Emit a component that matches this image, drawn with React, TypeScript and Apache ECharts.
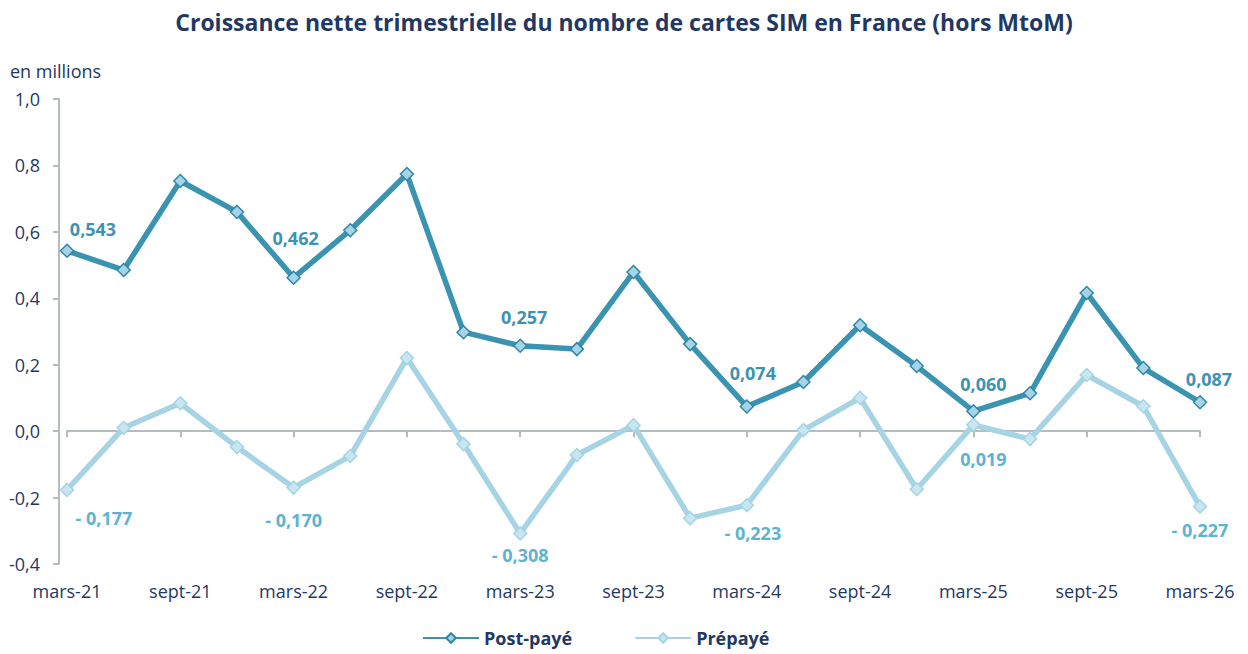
import React, { useEffect, useRef } from "react";
import * as echarts from "echarts";

const categories = [
  "mars-21", "juin-21", "sept-21", "déc-21",
  "mars-22", "juin-22", "sept-22", "déc-22",
  "mars-23", "juin-23", "sept-23", "déc-23",
  "mars-24", "juin-24", "sept-24", "déc-24",
  "mars-25", "juin-25", "sept-25", "déc-25",
  "mars-26",
];

const postPaye = [
  0.543, 0.485, 0.753, 0.66,
  0.462, 0.605, 0.774, 0.298,
  0.257, 0.247, 0.479, 0.262,
  0.074, 0.148, 0.319, 0.196,
  0.06, 0.114, 0.416, 0.19,
  0.087,
];

const prepaye = [
  -0.177, 0.01, 0.084, -0.048,
  -0.17, -0.075, 0.22, -0.039,
  -0.308, -0.072, 0.018, -0.262,
  -0.223, 0.003, 0.1, -0.175,
  0.019, -0.024, 0.169, 0.075,
  -0.227,
];

const labeledIdx = [0, 4, 8, 12, 16, 20];

// label nudges (px) for the labelled points, in labeledIdx order
const postOffsets: [number, number][] = [[26, 4], [2, -13], [4, -3], [6, -7], [10, -1], [9, 3]];
const preOffsets: [number, number][] = [[37, 2], [0, 6], [0, -5], [6, 2], [10, 8], [0, -3]];

const NAVY = "#1F3864";
const POST = "#3A93B0";
const PRE = "#A6D4E4";

function fmt(v: number): string {
  const s = Math.abs(v).toFixed(3).replace(".", ",");
  return v < 0 ? "- " + s : s;
}

export default function App() {
  const ref = useRef<HTMLDivElement>(null);
  useEffect(() => {
    document.body.style.margin = "0";
    const chart = echarts.init(ref.current!, null, { renderer: "svg" });
    const font = "'Open Sans', Lato, sans-serif";
    const mkData = (arr: number[], above: boolean, color: string, offs: [number, number][]) =>
      arr.map((v, i) => {
        const k = labeledIdx.indexOf(i);
        if (k < 0) return v;
        return {
          value: v,
          label: {
            show: true,
            position: above ? "top" : "bottom",
            distance: 10,
            offset: offs[k],
            formatter: () => fmt(v),
            color,
            fontSize: 18,
            fontWeight: "bold",
            fontFamily: font,
          },
        };
      });
    chart.setOption({
      animation: false,
      textStyle: { fontFamily: font },
      title: {
        text: "Croissance nette trimestrielle du nombre de cartes SIM en France (hors MtoM)",
        left: "center",
        top: 5,
        textStyle: { color: NAVY, fontSize: 23, fontWeight: "bold", fontFamily: font },
      },
      graphic: [
        {
          type: "text",
          left: 10,
          top: 62,
          style: { text: "en millions", fill: NAVY, fontSize: 18, fontFamily: font },
        },
      ],
      legend: {
        bottom: 2,
        left: 417,
        itemWidth: 56,
        itemHeight: 12,
        itemGap: 62,
        textStyle: { color: NAVY, fontSize: 18, fontWeight: "bold", fontFamily: font },
        data: ["Post-payé", "Prépayé"],
      },
      grid: { left: 67, right: 48, top: 99, bottom: 90 },
      xAxis: [
        {
          type: "category",
          data: categories,
          boundaryGap: false,
          axisLine: { onZero: true, lineStyle: { color: "#B4BCBF", width: 2 } },
          axisTick: { show: true, length: 6, lineStyle: { color: "#B4BCBF", width: 2 } },
          axisLabel: { show: false },
        },
        {
          type: "category",
          data: categories,
          boundaryGap: false,
          position: "bottom",
          axisLine: { show: false, onZero: false },
          axisTick: { show: false },
          axisLabel: { interval: 1, color: NAVY, fontSize: 18, margin: 18, fontFamily: font },
        },
      ],
      yAxis: {
        type: "value",
        min: -0.4,
        max: 1.0,
        interval: 0.2,
        offset: 8,
        splitLine: { show: false },
        axisLine: { show: true, lineStyle: { color: "#B4BCBF", width: 2 } },
        axisTick: { show: true, length: 6, lineStyle: { color: "#B4BCBF", width: 2 } },
        axisLabel: {
          color: NAVY,
          fontSize: 18,
          margin: 19,
          fontFamily: font,
          formatter: (v: number) => v.toFixed(1).replace(".", ","),
        },
      },
      series: [
        {
          name: "Post-payé",
          type: "line",
          data: mkData(postPaye, true, "#3F92B1", postOffsets),
          lineStyle: { color: POST, width: 5.5 },
          itemStyle: { color: "#A6D4E6", borderColor: "#2F87A6", borderWidth: 1.5 },
          symbol: "diamond",
          symbolSize: 13,
          z: 3,
        },
        {
          name: "Prépayé",
          type: "line",
          data: mkData(prepaye, false, "#5EB3CF", preOffsets),
          lineStyle: { color: PRE, width: 5.5 },
          itemStyle: { color: "#C8E6F0", borderColor: "#A6D4E4", borderWidth: 1.5 },
          symbol: "diamond",
          symbolSize: 13,
          z: 2,
        },
      ],
    });
    return () => chart.dispose();
  }, []);
  return <div ref={ref} style={{ width: 1248, height: 654 }} />;
}
